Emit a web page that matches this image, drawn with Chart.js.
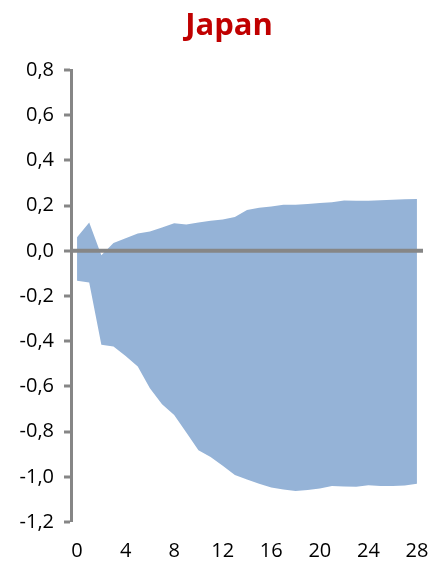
<!DOCTYPE html>
<html>
<head>
<meta charset="utf-8">
<script src="https://cdn.jsdelivr.net/npm/chart.js@4.4.1/dist/chart.umd.min.js"></script>
<style>
  body { margin: 0; background: #fff; }
  canvas { display: block; }
</style>
</head>
<body>
<canvas id="thechart" width="428" height="563"></canvas>
<script>
// horizons 0..28
var horizons = [];
for (var h = 0; h <= 28; h++) { horizons.push(String(h)); }

// band
var upperBand = [0.060, 0.125, -0.020, 0.035, 0.056, 0.077, 0.085, 0.103, 0.122, 0.116,
                 0.125, 0.133, 0.139, 0.150, 0.180, 0.190, 0.196, 0.204, 0.204, 0.207,
                 0.212, 0.215, 0.223, 0.221, 0.222, 0.224, 0.226, 0.228, 0.229];
var lowerBand = [-0.133, -0.140, -0.416, -0.423, -0.465, -0.512, -0.608, -0.679, -0.726, -0.804,
                 -0.882, -0.912, -0.951, -0.992, -1.012, -1.031, -1.047, -1.056, -1.063, -1.058,
                 -1.052, -1.041, -1.043, -1.044, -1.037, -1.041, -1.041, -1.039, -1.031];
var yMin = -1.2;
var yMax = 0.8;
var titleText = 'Japan';
var gray = '#868686';

// zero line over the band, title on top
var extras = {
  id: 'extras',
  afterDatasetsDraw: function (chart) {
    var ctx = chart.ctx;
    var y = chart.scales.y.getPixelForValue(0);
    ctx.save();
    ctx.strokeStyle = gray;
    ctx.lineWidth = 4;
    ctx.beginPath();
    ctx.moveTo(chart.chartArea.left, y);
    ctx.lineTo(chart.chartArea.right, y);
    ctx.stroke();
    ctx.fillStyle = '#C00000';
    ctx.font = 'bold 31px "Open Sans"';
    ctx.textAlign = 'center';
    ctx.textBaseline = 'alphabetic';
    ctx.fillText(titleText, 229, 35);
    ctx.restore();
  }
};

var ctx = document.getElementById('thechart').getContext('2d');
var theChart = new Chart(ctx, {
  type: 'line',
  data: {
    labels: horizons,
    datasets: [
      { data: lowerBand, borderWidth: 0, pointRadius: 0, fill: false },
      { data: upperBand, borderWidth: 0, pointRadius: 0, fill: '-1', backgroundColor: '#95B3D7' }
    ]
  },
  options: {
    responsive: false,
    animation: false,
    layout: { padding: { left: 0, right: 5, top: 70, bottom: 0 } },
    plugins: {
      legend: { display: false },
      tooltip: { enabled: false },
      title: { display: false }
    },
    scales: {
      x: {
        offset: true,
        afterFit: function (scale) {
          scale.height = 41;
          scale.paddingLeft = 0;
          scale.paddingRight = 0;
        },
        grid: { display: false, drawTicks: false },
        border: { display: false },
        ticks: {
          autoSkip: false,
          maxRotation: 0,
          padding: 17,
          color: '#000',
          font: { family: 'Open Sans', size: 20 },
          callback: function (val, i) { return i % 4 === 0 ? horizons[i] : ''; }
        }
      },
      y: {
        min: yMin,
        max: yMax,
        afterFit: function (scale) { scale.width = 71; },
        border: { display: true, color: gray, width: 3 },
        grid: {
          lineWidth: 0,
          drawOnChartArea: false,
          tickColor: gray,
          tickWidth: 3,
          tickLength: 7
        },
        ticks: {
          stepSize: 0.2,
          padding: 10,
          color: '#000',
          font: { family: 'Open Sans', size: 20 },
          callback: function (v) { return v.toFixed(1).replace('.', ','); }
        }
      }
    }
  },
  plugins: [extras]
});
</script>
</body>
</html>
